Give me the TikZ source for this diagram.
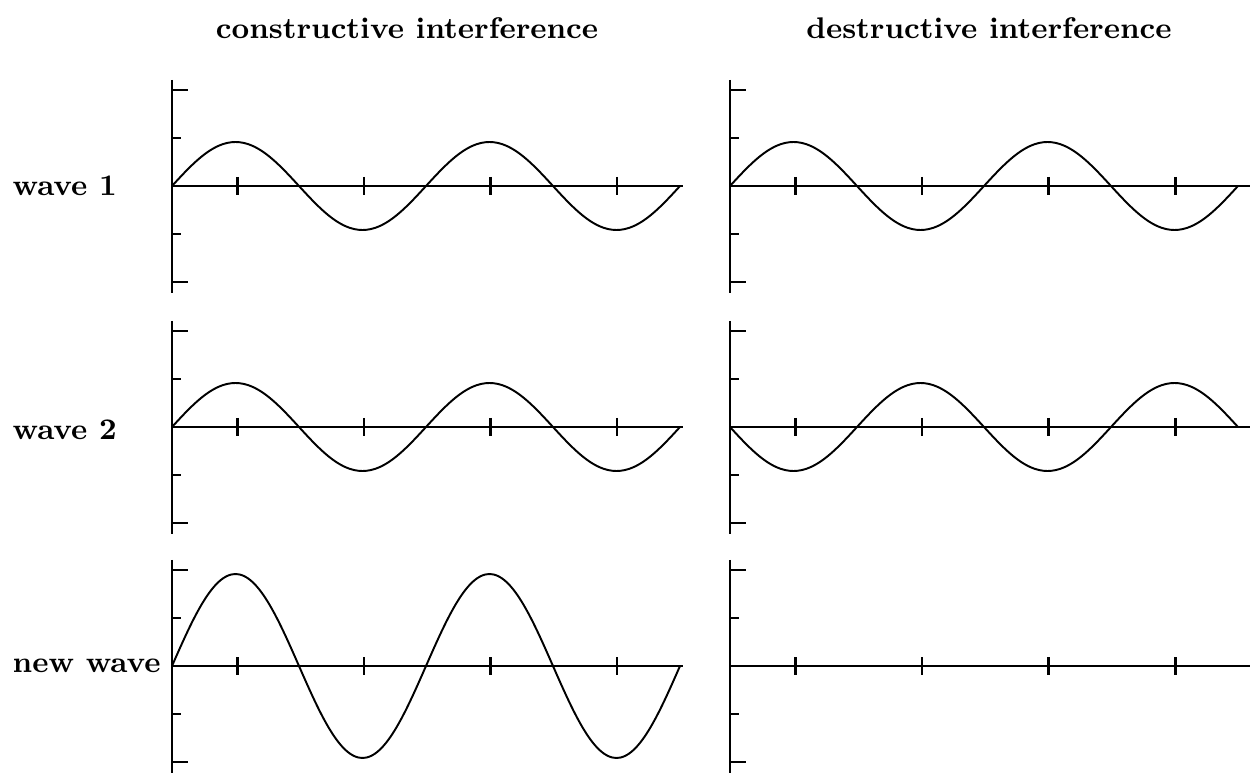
\documentclass[tikz,border=0pt]{standalone}
\begin{document}
\begin{tikzpicture}[x=1cm, y=1cm,
  axisline/.style={line width=0.85pt},
  waveline/.style={line width=0.55pt},
  ttl/.style={font=\fontsize{8.5}{10}\selectfont\bfseries, inner sep=0pt},
  lbl/.style={font=\fontsize{8.5}{10}\selectfont\bfseries, anchor=west, inner sep=0pt}]
\useasboundingbox (0,0) rectangle (12.52,7.73);
\node[ttl] (ttlc) at (4.07,7.45) {constructive interference};
\node[ttl] (ttld) at (9.89,7.45) {destructive interference};
\node[lbl] (lw1) at (0.12,5.87) {wave 1};
\node[lbl] (lw2) at (0.12,3.43) {wave 2};
\node[lbl] (lnew) at (0.12,1.07) {new wave};
\foreach \xo/\xe in {1.72/6.83, 7.30/12.50}
  \foreach \yo in {5.87, 3.46, 1.07} {
    \draw[axisline] (\xo,\yo+1.06) -- (\xo,\yo-1.07);
    \draw[axisline] (\xo,\yo) -- (\xe,\yo);
    \foreach \k in {0,...,3}
      \draw[axisline] (\xo+0.655+1.265*\k,\yo+0.09) -- ++(0,-0.18);
    \foreach \dy/\len in {0.96/0.16, 0.48/0.09, -0.48/0.09, -0.96/0.16}
      \draw[axisline] (\xo,\yo+\dy) -- ++(\len,0);
  }
\foreach \xo/\yo/\amp in {1.72/5.87/0.44, 1.72/3.46/0.44, 1.72/1.07/0.92, 7.30/5.87/0.44, 7.30/3.46/-0.44}
  \draw[waveline] plot[variable=\t, domain=0:5.08, samples=121, smooth] ({\xo+\t},{\yo+\amp*sin(\t*360/2.54)});
\end{tikzpicture}
\end{document}
